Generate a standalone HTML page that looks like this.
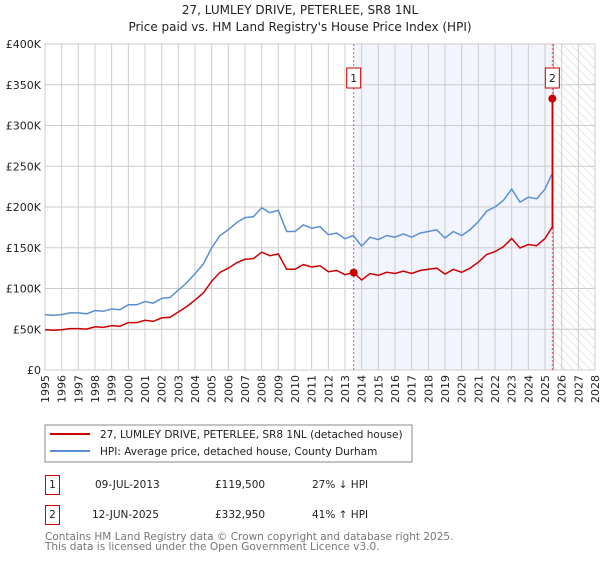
<!DOCTYPE html>
<html><head><meta charset="utf-8">
<style>
body{margin:0;background:#fff;font-family:"DejaVu Sans","Liberation Sans",sans-serif;}
svg text{font-family:"DejaVu Sans","Liberation Sans",sans-serif;}
</style></head>
<body>
<svg id="chart" width="600" height="560" viewBox="0 0 600 560" xmlns="http://www.w3.org/2000/svg">
<defs>
<pattern id="hatch" width="6" height="6" patternUnits="userSpaceOnUse" patternTransform="rotate(-45)">
<line x1="0" y1="0" x2="0" y2="6" stroke="#d4d4d4" stroke-width="1"/>
</pattern>
</defs>
<text x="300" y="14" text-anchor="middle" font-size="12" fill="#222">27, LUMLEY DRIVE, PETERLEE, SR8 1NL</text>
<text x="300" y="31" text-anchor="middle" font-size="12" fill="#222">Price paid vs. HM Land Registry's House Price Index (HPI)</text>
<g id="grid"></g>
<g id="marks"></g>
<g id="axes"></g>

<rect x="45" y="425" width="367" height="37" fill="none" stroke="#888"/>
<line x1="50" y1="434" x2="90" y2="434" stroke="#cc0000" stroke-width="2"/>
<text x="100" y="438" font-size="10.5" fill="#222">27, LUMLEY DRIVE, PETERLEE, SR8 1NL (detached house)</text>
<line x1="50" y1="451" x2="90" y2="451" stroke="#5b8fd4" stroke-width="2"/>
<text x="100" y="455" font-size="10.5" fill="#222">HPI: Average price, detached house, County Durham</text>

<g>
<rect x="45.5" y="475.5" width="14" height="19" fill="#fff" stroke="#cc0000"/>
<text x="52.5" y="488" text-anchor="middle" font-size="10.5" fill="#222">1</text>
<text x="95" y="488" font-size="10.5" fill="#222">09-JUL-2013</text>
<text x="215" y="488" font-size="10.5" fill="#222">£119,500</text>
<text x="312" y="488" font-size="10.5" fill="#222">27% ↓ HPI</text>
</g>
<g>
<rect x="45.5" y="505.5" width="14" height="19" fill="#fff" stroke="#cc0000"/>
<text x="52.5" y="518" text-anchor="middle" font-size="10.5" fill="#222">2</text>
<text x="92" y="518" font-size="10.5" fill="#222">12-JUN-2025</text>
<text x="215" y="518" font-size="10.5" fill="#222">£332,950</text>
<text x="312" y="518" font-size="10.5" fill="#222">41% ↑ HPI</text>
</g>
<text x="45" y="540" font-size="10.5" fill="#777">Contains HM Land Registry data © Crown copyright and database right 2025.</text>
<text x="45" y="550" font-size="10.5" fill="#777">This data is licensed under the Open Government Licence v3.0.</text>
</svg>
<script>
const hpiYears=[1995,1995.5,1996,1996.5,1997,1997.5,1998,1998.5,1999,1999.5,2000,2000.5,2001,2001.5,2002,2002.5,2003,2003.5,2004,2004.5,2005,2005.5,2006,2006.5,2007,2007.5,2008,2008.5,2009,2009.5,2010,2010.5,2011,2011.5,2012,2012.5,2013,2013.5,2014,2014.5,2015,2015.5,2016,2016.5,2017,2017.5,2018,2018.5,2019,2019.5,2020,2020.5,2021,2021.5,2022,2022.5,2023,2023.5,2024,2024.5,2025,2025.4];
const hpiValues=[68,67,68,70,70,69,73,72,75,74,80,80,84,82,88,89,98,107,118,130,150,165,172,181,187,188,199,193,196,170,170,178,174,176,166,168,161,165,152,163,160,165,163,167,163,168,170,172,162,170,165,172,182,195,200,208,222,206,212,210,222,240];
const saleYears=[2013.52,2025.44];
const salePrices=[119.5,332.95];
const saleLabels=["1","2"];
const yTicks=[0,50,100,150,200,250,300,350,400];
const yTickLabels=["£0","£50K","£100K","£150K","£200K","£250K","£300K","£350K","£400K"];
const xTicks=[1995,1996,1997,1998,1999,2000,2001,2002,2003,2004,2005,2006,2007,2008,2009,2010,2011,2012,2013,2014,2015,2016,2017,2018,2019,2020,2021,2022,2023,2024,2025,2026,2027,2028];

const X0=45,X1=595,Y0=370,Y1=44,xmin=1995,xmax=2028,ymax=400;
const sx=v=>X0+(v-xmin)/(xmax-xmin)*(X1-X0);
const sy=v=>Y0-v/ymax*(Y0-Y1);
const NS="http://www.w3.org/2000/svg";
function mk(parent,tag,attrs){const e=document.createElementNS(NS,tag);for(const k in attrs)e.setAttribute(k,attrs[k]);parent.appendChild(e);return e;}
const grid=document.getElementById('grid'),marks=document.getElementById('marks'),axes=document.getElementById('axes');

mk(grid,'rect',{x:X0,y:Y1,width:X1-X0,height:Y0-Y1,fill:'#fff'});
let sh=mk(grid,'rect',{x:sx(saleYears[0]),y:Y1,width:sx(saleYears[1])-sx(saleYears[0]),height:Y0-Y1,fill:'#f2f5fd'});


let ht=mk(grid,'rect',{x:sx(2025.5),y:Y1,width:X1-sx(2025.5),height:Y0-Y1,fill:'url(#hatch)'});


xTicks.forEach(t=>{mk(grid,'line',{x1:sx(t),x2:sx(t),y1:Y1,y2:Y0,stroke:'#ccc','stroke-width':1});});
yTicks.forEach(t=>{mk(grid,'line',{x1:X0,x2:X1,y1:sy(t),y2:sy(t),stroke:'#ccc','stroke-width':1});});
mk(grid,'rect',{x:X0,y:Y1,width:X1-X0,height:Y0-Y1,fill:'none',stroke:'#ccc'});
mk(grid,'line',{x1:sx(2025.5),x2:sx(2025.5),y1:Y1,y2:Y0,stroke:'#999','stroke-width':1});

yTicks.forEach((t,i)=>{const tx=mk(axes,'text',{x:X0-4,y:sy(t)+4,'text-anchor':'end','font-size':11,fill:'#222'});tx.textContent=yTickLabels[i];

});
xTicks.forEach(t=>{const tx=mk(axes,'text',{x:0,y:0,'text-anchor':'end','font-size':11,fill:'#222',transform:`translate(${sx(t)+4},${Y0+5}) rotate(-90)`});tx.textContent=t;

});

saleYears.forEach((s,i)=>{
  const l=mk(marks,'line',{x1:sx(s),x2:sx(s),y1:Y1,y2:Y0,stroke:'#e06060','stroke-width':1,'stroke-dasharray':'2,2'});
  
  
  const g=mk(marks,'g',{});
  
  
  mk(g,'rect',{x:sx(s)-7,y:68,width:14,height:20,fill:'#fff',stroke:'#cc0000'});
  const t=mk(g,'text',{x:sx(s),y:82,'text-anchor':'middle','font-size':11,fill:'#222'});t.textContent=saleLabels[i];
});

const hp=hpiYears.map((y,i)=>sx(y).toFixed(1)+','+sy(hpiValues[i]).toFixed(1)).join(' ');
const hl=mk(marks,'polyline',{points:hp,fill:'none',stroke:'#5b8fd4','stroke-width':1.5});



function hpiAt(y){for(let i=1;i<hpiYears.length;i++){if(y<=hpiYears[i]){const a=hpiYears[i-1],b=hpiYears[i];const f=(y-a)/(b-a);return hpiValues[i-1]+f*(hpiValues[i]-hpiValues[i-1]);}}return hpiValues[hpiValues.length-1];}
const ratio=salePrices[0]/hpiAt(saleYears[0]);
const rp=hpiYears.map((y,i)=>sx(y).toFixed(1)+','+sy(hpiValues[i]*ratio).toFixed(1));
rp.push(sx(saleYears[1]).toFixed(1)+','+sy(hpiAt(saleYears[1])*ratio).toFixed(1));
rp.push(sx(saleYears[1]).toFixed(1)+','+sy(salePrices[1]).toFixed(1));
const rl=mk(marks,'polyline',{points:rp.join(' '),fill:'none',stroke:'#cc0000','stroke-width':1.5});


saleYears.forEach((s,i)=>{const c=mk(marks,'circle',{cx:sx(s),cy:sy(salePrices[i]),r:4,fill:'#cc0000'});

});
</script>
</body></html>
